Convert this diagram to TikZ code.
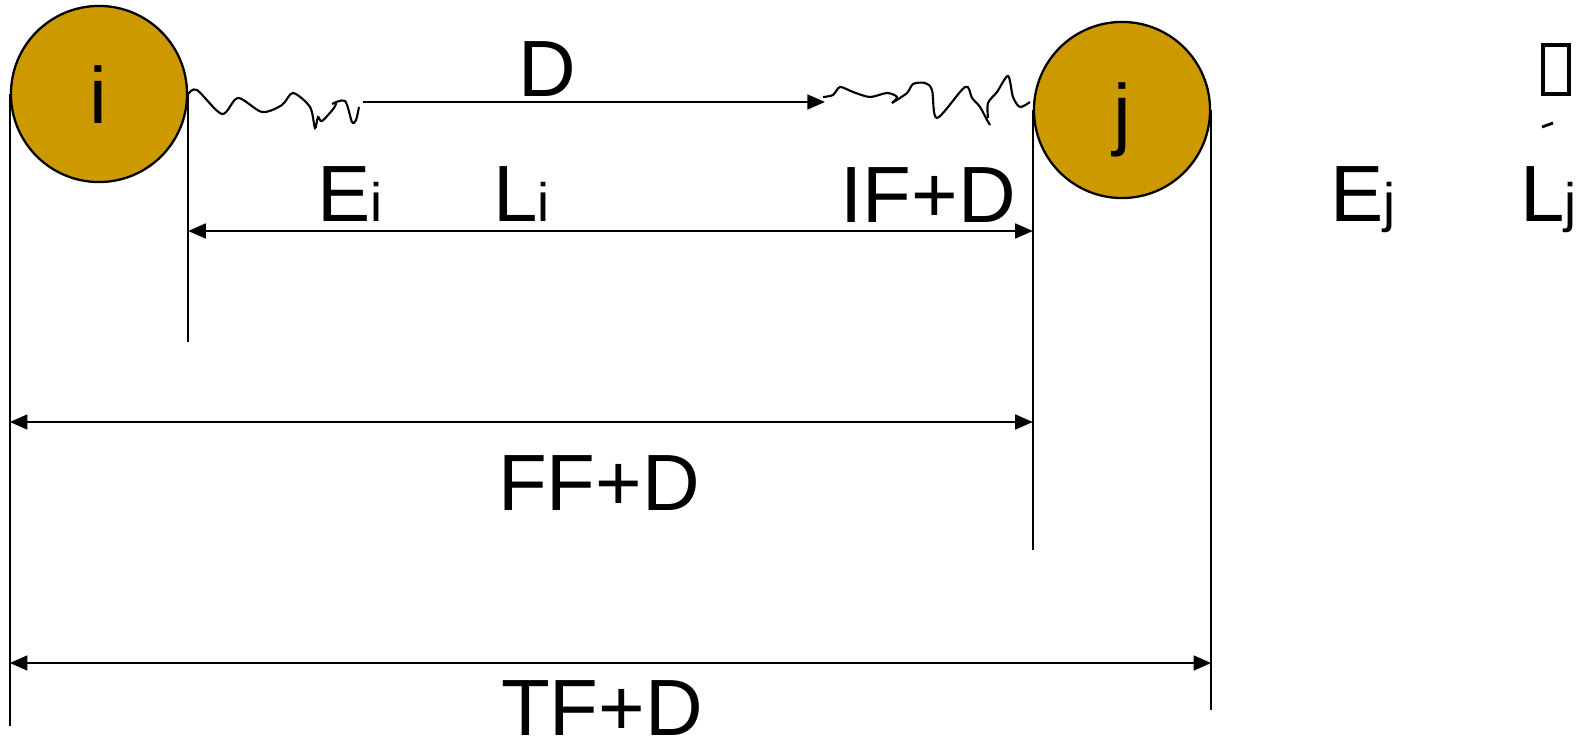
\documentclass[tikz,border=0pt]{standalone}
\usepackage{fontspec}
\setmainfont{Liberation Sans}
\usepackage{tikz}
\usetikzlibrary{arrows.meta, positioning}
\definecolor{eventgold}{RGB}{204,153,0}
\newcommand{\subfont}{\fontsize{15.4}{18}\selectfont}

\begin{document}
\begin{tikzpicture}[x=0.01cm, y=-0.01cm, >={Triangle[length=5pt,width=4.2pt]}, line width=0.65pt,
    event/.style={circle, draw, fill=eventgold, minimum size=1.76cm, inner sep=0pt},
    txt/.style={inner sep=0pt, font=\fontsize{22.7}{27}\selectfont},
    wiggle/.style={smooth, tension=0.5}]
    \useasboundingbox (0,0) rectangle (1589,743);
    \node[event] (i) at (99,94) {};
    \node[event] (j) at (1122,110) {};
    \node[txt, anchor=base] (ilbl) at (98,124) {i};
    \node[txt, anchor=base] (jlbl) at (1122,141) {j};

    \draw (i.west) -- (i.west |- 0,726);
    \draw (i.east) -- (i.east |- 0,342);
    \draw (j.west) -- (j.west |- 0,550);
    \draw (j.east) -- (j.east |- 0,710);

    \coordinate (dstart) at (363,102);
    \coordinate (dend) at (825,102);
    \draw[->] (dstart) -- (dend);
    \draw[<->] (i.east |- 0,231) -- (j.west |- 0,231);
    \draw[<->] (i.west |- 0,422) -- (j.west |- 0,422);
    \draw[<->] (i.west |- 0,663) -- (j.east |- 0,663);

    \draw[semithick] plot[wiggle] coordinates {(i.east) (197,90) (222,114) (238,98) (262,112) (282,105) (293,93) (310,107) (315,128) (318,117) (322,121) (334,108) (336,103)};
    \draw[semithick] plot[wiggle] coordinates {(332,104) (345,101) (352,122) (356,120) (359,107)};
    \draw[semithick] plot[wiggle] coordinates {(823,97) (833,95) (840,87) (853,92) (870,97) (887,93) (897,97) (892,103)};
    \draw[semithick] plot[wiggle] coordinates {(892,103) (907,93) (913,84) (925,83) (932,90) (937,118) (965,87) (972,98) (980,107) (987,120) (990,125)};
    \draw[semithick] plot[wiggle] coordinates {(988,118) (988,103) (997,92) (1008,76) (1013,97) (1020,107) (1030,102)};

    \node[txt, anchor=base] (D) at (547,97) {D};
    \node[txt, anchor=base west] (Ei) at (316,222) {E\subfont i};
    \node[txt, anchor=base west] (Li) at (492,222) {L\subfont i};
    \node[txt, anchor=base] (IF) at (928,223) {IF+D};
    \node[txt, anchor=base west] (Ej) at (1329,222) {E\subfont j};
    \node[txt, anchor=base west] (Lj) at (1519,222) {L\subfont j};
    \node[txt, anchor=base] (FF) at (599,510) {FF+D};
    \node[txt, anchor=base] (TF) at (602,735) {TF+D};

    \draw[line width=1.1pt] (1543,45) rectangle (1569,94);
    \draw[line width=0.8pt] (1542,127) -- (1553,123);
\end{tikzpicture}
\end{document}
